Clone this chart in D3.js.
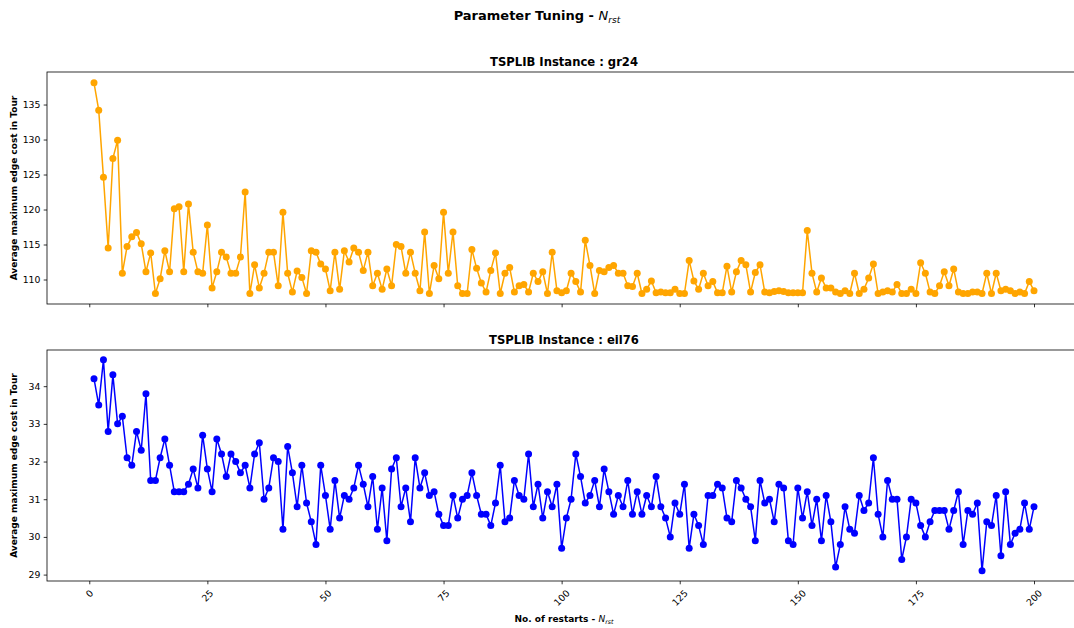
<!DOCTYPE html>
<html><head><meta charset="utf-8">
<script src="https://cdn.jsdelivr.net/npm/d3@7"></script>
<style>body{margin:0;background:#fff}svg{display:block}text{font-family:"DejaVu Sans",sans-serif}</style>
</head><body><svg id="c" width="1074" height="628"></svg>
<script>
const restarts = d3.range(1, 201);
const gr24Cost = [138.1,134.2,124.6,114.5,127.3,129.9,110.9,114.7,116.1,116.7,
115.1,111.1,113.8,108.0,110.1,114.1,111.1,120.1,120.4,111.1,
120.8,113.9,111.1,110.9,117.8,108.8,111.1,113.9,113.2,110.9,
110.9,113.2,122.5,108.0,112.1,108.8,110.9,113.9,113.9,109.1,
119.6,110.9,108.2,111.2,110.3,108.0,114.1,113.9,112.2,111.5,
108.4,113.9,108.6,114.1,112.5,114.5,113.9,111.3,113.9,109.1,
110.9,108.6,111.5,109.1,115.0,114.7,110.9,113.9,110.9,108.4,
116.8,108.0,112.0,110.1,119.6,110.9,116.8,109.1,108.0,108.0,
114.3,111.6,109.5,108.2,111.3,113.8,108.0,110.9,111.7,108.2,
109.1,109.3,108.2,110.9,109.7,111.1,108.0,113.9,108.4,108.1,
108.4,110.9,109.7,108.2,115.6,112.0,108.0,111.3,111.1,111.7,
112.0,110.9,110.9,109.1,109.0,110.9,108.0,108.6,109.8,108.1,
108.2,108.1,108.1,108.6,108.0,108.0,112.7,109.8,108.6,110.9,
109.1,109.7,108.1,108.1,111.9,108.2,111.1,112.7,112.1,108.2,
111.0,112.1,108.2,108.1,108.3,108.4,108.3,108.1,108.1,108.1,
108.1,117.0,110.9,108.2,110.2,108.8,108.8,108.2,108.0,108.4,
108.0,110.9,108.0,108.6,110.2,112.2,108.0,108.2,108.4,108.2,
109.3,108.0,108.0,108.6,108.0,112.4,110.9,108.2,108.0,109.1,
111.1,109.1,111.5,108.2,108.0,108.0,108.2,108.2,108.0,110.9,
108.0,110.9,108.4,108.6,108.4,108.0,108.2,108.0,109.7,108.4];
const eil76Cost = [34.2,33.5,34.7,32.8,34.3,33.0,33.2,32.1,31.9,32.8,
32.3,33.8,31.5,31.5,32.1,32.6,31.9,31.2,31.2,31.2,
31.4,31.8,31.3,32.7,31.8,31.2,32.6,32.2,31.6,32.2,
32.0,31.7,31.9,31.3,32.2,32.5,31.0,31.3,32.1,32.0,
30.2,32.4,31.7,30.8,31.9,30.9,30.4,29.8,31.9,31.1,
30.2,31.5,30.5,31.1,31.0,31.3,31.9,31.4,30.8,31.6,
30.2,31.3,29.9,31.8,32.1,30.8,31.3,30.4,32.1,31.3,
31.7,31.1,31.2,30.6,30.3,30.3,31.1,30.5,31.0,31.1,
31.7,31.1,30.6,30.6,30.3,30.9,31.9,30.4,30.5,31.5,
31.1,31.0,32.2,30.8,31.4,30.5,31.2,30.8,31.4,29.7,
30.5,31.0,32.2,31.6,30.9,31.1,31.5,30.8,31.8,31.2,
30.6,31.1,30.8,31.5,30.6,31.2,30.6,31.1,30.8,31.6,
30.8,30.5,30.0,30.9,30.6,31.4,29.7,30.6,30.3,29.8,
31.1,31.1,31.4,31.3,30.5,30.4,31.5,31.3,31.0,30.8,
29.9,31.5,30.9,31.0,30.4,31.4,31.3,29.9,29.8,31.3,
30.5,31.2,30.3,31.0,29.9,31.1,30.4,29.2,29.8,30.8,
30.2,30.1,31.1,30.7,30.9,32.1,30.6,30.0,31.5,31.0,
31.0,29.4,30.0,31.0,30.9,30.3,30.0,30.4,30.7,30.7,
30.7,30.2,30.7,31.2,29.8,30.7,30.6,30.9,29.1,30.4,
30.3,31.1,29.5,31.2,29.8,30.1,30.2,30.9,30.2,30.8];
const xTickValues = [0, 25, 50, 75, 100, 125, 150, 175, 200];
const gr24Ticks = [110, 115, 120, 125, 130, 135];
const eil76Ticks = [29, 30, 31, 32, 33, 34];
const suptitle = "Parameter Tuning - ";
const titles = ["TSPLIB Instance : gr24", "TSPLIB Instance : eil76"];
const yLabel = "Average maximum edge cost in Tour";
const xLabel = "No. of restarts - ";

const svg = d3.select("#c");
const L = 47, R = 1081;
const x = d3.scaleLinear().domain([-8.95, 209.95]).range([L, R]);
const cx = (L + R) / 2;
const tickLen = 3.3, tickPad = 3.3, tickFs = 9.3;

function addMath(t, fs) {
  t.append("tspan").attr("font-style", "italic").attr("font-weight", "normal").text("N");
  t.append("tspan").attr("font-style", "italic").attr("font-weight", "normal")
    .attr("font-size", fs * 0.7).attr("dy", fs * 0.22).text("rst");
}

const st = svg.append("text").attr("x", 537).attr("y", 20).attr("text-anchor", "middle")
  .attr("font-size", 13).attr("font-weight", "bold").text(suptitle);
addMath(st, 13);

function panel(values, top, bottom, yDomain, yTicks, color, title, showX) {
  const y = d3.scaleLinear().domain(yDomain).range([bottom, top]);
  const g = svg.append("g");
  const ya = g.append("g").attr("transform", `translate(${L},0)`)
    .call(d3.axisLeft(y).tickValues(yTicks).tickSize(tickLen).tickPadding(tickPad).tickFormat(d3.format("d")));
  ya.select(".domain").remove();
  ya.selectAll("line").attr("stroke", "#000").attr("stroke-width", 0.8);
  ya.selectAll("text").attr("font-size", tickFs).attr("font-family", "DejaVu Sans").attr("fill", "#000");
  const xa = g.append("g").attr("transform", `translate(0,${bottom})`)
    .call(d3.axisBottom(x).tickValues(xTickValues).tickSize(tickLen).tickFormat(""));
  xa.select(".domain").remove();
  xa.selectAll("line").attr("stroke", "#000").attr("stroke-width", 0.8);
  if (showX) {
    const lt = g.append("g");
    xTickValues.forEach(v => {
      const t = lt.append("text").attr("font-size", tickFs).attr("text-anchor", "middle")
        .attr("dominant-baseline", "central").text(d3.format("d")(v));
      const w = t.node().getComputedTextLength();
      const h = tickFs * 1.16;
      const half = (w + h) / (2 * Math.SQRT2);
      t.attr("transform", `translate(${x(v)},${bottom + tickLen + tickPad + half}) rotate(-45)`);
    });
  }
  g.append("rect").attr("x", L).attr("y", top).attr("width", R - L).attr("height", bottom - top)
    .attr("fill", "none").attr("stroke", "#000").attr("stroke-width", 0.8);
  const data = restarts.map((r, i) => [r, values[i]]);
  g.append("path").datum(data).attr("fill", "none").attr("stroke", color).attr("stroke-width", 1.5)
    .attr("stroke-linejoin", "round")
    .attr("d", d3.line().x(d => x(d[0])).y(d => y(d[1])));
  g.append("g").selectAll("circle").data(data).join("circle")
    .attr("cx", d => x(d[0])).attr("cy", d => y(d[1])).attr("r", 3.5).attr("fill", color);
  g.append("text").attr("x", cx).attr("y", top - 6).attr("text-anchor", "middle")
    .attr("font-size", 11.6).attr("font-weight", "bold").text(title);
  g.append("text").attr("transform", `translate(14,${(top + bottom) / 2}) rotate(-90)`)
    .attr("text-anchor", "middle").attr("dominant-baseline", "central")
    .attr("font-size", 9).attr("font-weight", "bold").text(yLabel);
}

panel(gr24Cost, 72, 304, [106.5, 139.65], gr24Ticks, "#FFA500", titles[0], false);
panel(eil76Cost, 350, 581, [28.83, 34.96], eil76Ticks, "#0000FF", titles[1], true);

const xl = svg.append("text").attr("x", cx).attr("y", 622).attr("text-anchor", "middle")
  .attr("font-size", 9).attr("font-weight", "bold").text(xLabel);
addMath(xl, 9);
</script></body></html>
